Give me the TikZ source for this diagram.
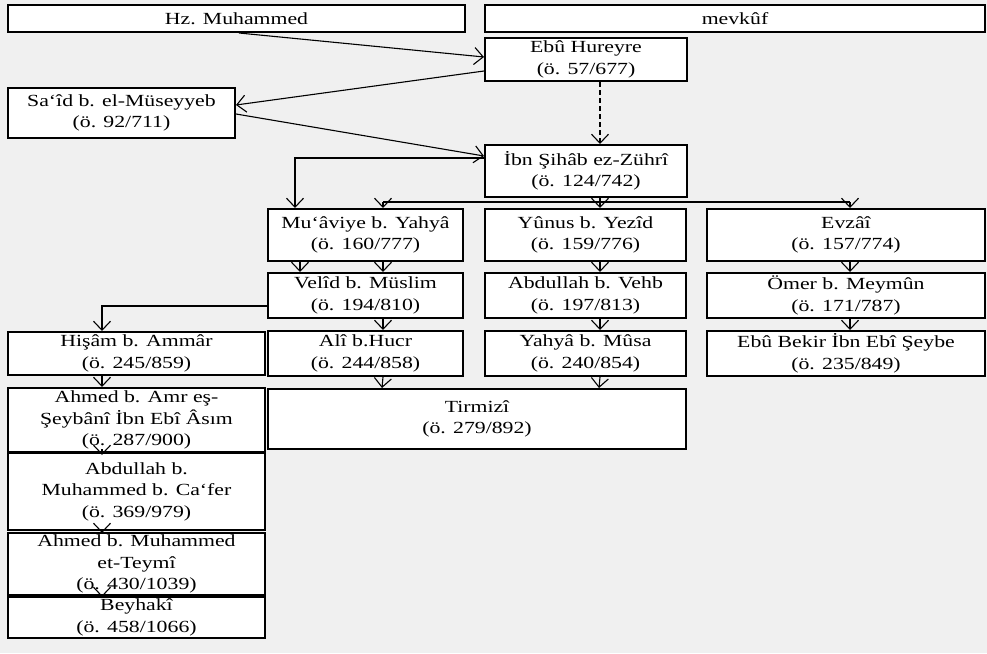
\documentclass[tikz,border=0pt]{standalone}
\usepackage{fontspec}
\setmainfont[FakeStretch=1.28]{Liberation Serif}
\usetikzlibrary{arrows.meta,calc}
\definecolor{bgc}{HTML}{F0F0F0}
\begin{document}
\begin{tikzpicture}[x=1pt,y=-1pt,
  box/.style={draw=black, line width=2pt, fill=white, inner sep=0pt, align=center,
    font=\fontsize{17}{21.5}\selectfont},
  arr/.style={line width=1.1pt, -{Straight Barb[length=9pt,width=17pt]}},
  ln/.style={line width=1.1pt}]
\fill[bgc] (0,0) rectangle (987,653);
\useasboundingbox (0,0) rectangle (987,653);
% top row
\node[box, minimum width=457pt, minimum height=27pt] (hz) at (236.5,18.5) {Hz. Muhammed};
\node[box, minimum width=500pt, minimum height=27pt] (mev) at (735,18.5) {mevkûf};
\node[box, minimum width=202pt, minimum height=43pt] (ebu) at (586,59.5) {Ebû Hureyre\\(ö. 57/677)};
\node[box, minimum width=227pt, minimum height=50pt] (said) at (121.5,113) {Sa‘îd b. el-Müseyyeb\\(ö. 92/711)};
\node[box, minimum width=202pt, minimum height=52pt] (ibn) at (586,171) {İbn Şihâb ez-Zührî\\(ö. 124/742)};
% middle columns
\node[box, minimum width=195pt, minimum height=52pt] (mua) at (365.5,235) {Mu‘âviye b. Yahyâ\\(ö. 160/777)};
\node[box, minimum width=201pt, minimum height=52pt] (yun) at (585.5,235) {Yûnus b. Yezîd\\(ö. 159/776)};
\node[box, minimum width=278pt, minimum height=52pt] (evz) at (846,235) {Evzâî\\(ö. 157/774)};
\node[box, minimum width=195pt, minimum height=45pt] (vel) at (365.5,295.5) {Velîd b. Müslim\\(ö. 194/810)};
\node[box, minimum width=201pt, minimum height=45pt] (abv) at (585.5,295.5) {Abdullah b. Vehb\\(ö. 197/813)};
\node[box, minimum width=278pt, minimum height=45pt] (omer) at (846,295.5) {Ömer b. Meymûn\\(ö. 171/787)};
\node[box, minimum width=195pt, minimum height=45pt] (ali) at (365.5,353.5) {Alî b.Hucr\\(ö. 244/858)};
\node[box, minimum width=201pt, minimum height=45pt] (yah) at (585.5,353.5) {Yahyâ b. Mûsa\\(ö. 240/854)};
\node[box, minimum width=278pt, minimum height=45pt] (ebb) at (846,353.5) {Ebû Bekir İbn Ebî Şeybe\\(ö. 235/849)};
\node[box, minimum width=418pt, minimum height=60pt] (tir) at (477,419) {Tirmizî\\(ö. 279/892)};
% left column
\node[box, minimum width=257pt, minimum height=43pt] (his) at (136.5,353.5) {Hişâm b. Ammâr\\(ö. 245/859)};
\node[box, minimum width=257pt, minimum height=64pt] (ahm1) at (136.5,420) {Ahmed b. Amr eş-\\Şeybânî İbn Ebî Âsım\\(ö. 287/900)};
\node[box, minimum width=257pt, minimum height=77pt] (abd) at (136.5,491.5) {Abdullah b.\\Muhammed b. Ca‘fer\\(ö. 369/979)};
\node[box, minimum width=257pt, minimum height=62pt] (ahm2) at (136.5,564) {Ahmed b. Muhammed\\et-Teymî\\(ö. 430/1039)};
\node[box, minimum width=257pt, minimum height=41pt] (bey) at (136.5,617.5) {Beyhakî\\(ö. 458/1066)};
% connectors
\draw[arr] ($(hz.south west)+(232,0)$) -- ($(ebu.west)+(0,-2.5)$);
\draw[arr] ($(ebu.west)+(0,11.5)$) -- ($(said.east)+(0,-8)$);
\draw[arr] ($(said.east)+(0,1)$) -- ($(ibn.west)+(0,-15)$);
\draw[arr, dash pattern=on 5pt off 3pt] ($(ebu.south)+(14,0)$) -- ($(ibn.north)+(14,0)$);
\draw[arr] ($(ibn.west)+(0,-13)$) -| ($(mua.north west)+(28,0)$);
\coordinate (busm) at ($(ibn.south)+(14,6)$);
\coordinate (busl) at ($(mua.north)+(17.5,-6)$);
\coordinate (busr) at ($(evz.north)+(4,-6)$);
\draw[ln] ($(ibn.south)+(14,0)$) -- (busm);
\draw[ln] (busl) -- (busr);
\draw[arr] (busl) -- ($(mua.north)+(17.5,0)$);
\draw[arr] (busm) -- ($(yun.north)+(14.5,0)$);
\draw[arr] (busr) -- ($(evz.north)+(4,0)$);
\draw[arr] ($(mua.south)+(-65.5,0)$) -- ($(vel.north)+(-65.5,0)$);
\draw[arr] ($(mua.south)+(17.5,0)$) -- ($(vel.north)+(17.5,0)$);
\draw[arr] ($(vel.south)+(17.5,0)$) -- ($(ali.north)+(17.5,0)$);
\draw[arr] ($(ali.south)+(17.5,0)$) -- ($(tir.north west)+(115,0)$);
\draw[arr] ($(yun.south)+(14.5,0)$) -- ($(abv.north)+(14.5,0)$);
\draw[arr] ($(abv.south)+(14.5,0)$) -- ($(yah.north)+(14.5,0)$);
\draw[arr] ($(yah.south)+(14.5,0)$) -- ($(tir.north west)+(332,0)$);
\draw[arr] ($(evz.south)+(4,0)$) -- ($(omer.north)+(4,0)$);
\draw[arr] ($(omer.south)+(4,0)$) -- ($(ebb.north)+(4,0)$);
\draw[arr] ($(vel.west)+(0,10.5)$) -| ($(his.north)+(-34.5,0)$);
\draw[arr] ($(his.south)+(-34.5,0)$) -- ($(ahm1.north)+(-34.5,0)$);
\draw[arr] ($(ahm1.south)+(-34.5,-4)$) -- ($(abd.north)+(-34.5,3)$);
\draw[arr] ($(abd.south)+(-34.5,0)$) -- ($(ahm2.north)+(-34.5,1)$);
\draw[arr] ($(ahm2.south)+(-34.5,0)$) -- ($(bey.north)+(-34.5,1)$);
\end{tikzpicture}
\end{document}
